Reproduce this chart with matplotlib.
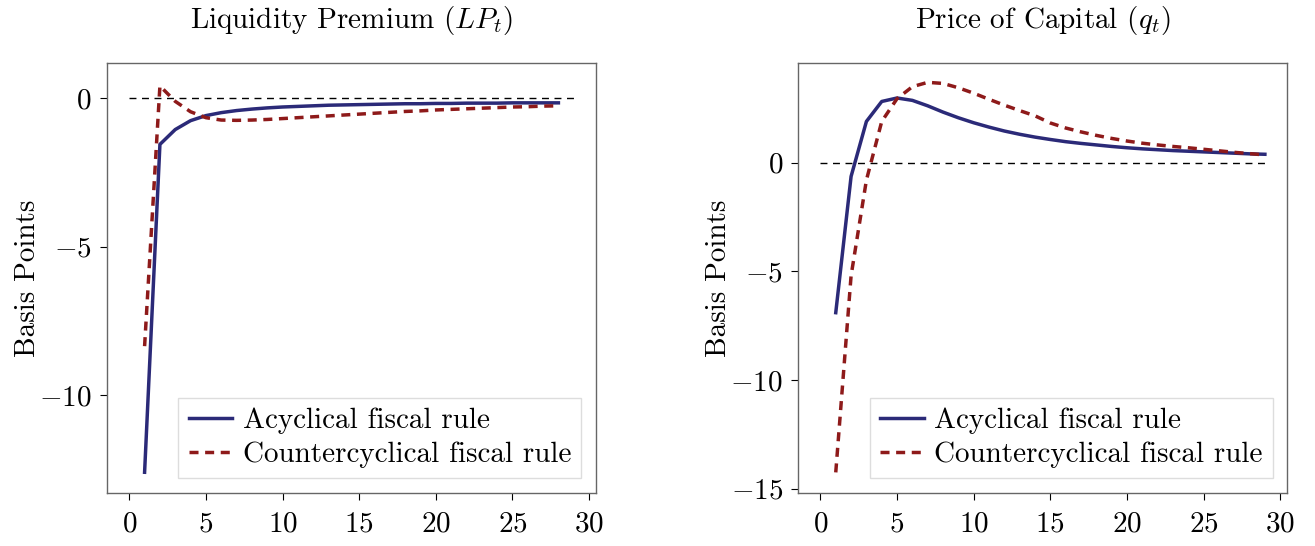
import numpy as np
import matplotlib
matplotlib.use("Agg")
from matplotlib import pyplot as plt

plt.rcParams['font.family'] = 'serif'
plt.rcParams['font.serif'] = ['cmr10', 'DejaVu Serif']
plt.rcParams['mathtext.fontset'] = 'cm'
plt.rcParams['axes.formatter.use_mathtext'] = True
plt.rcParams['axes.unicode_minus'] = True

# impulse responses, quarters 1..T
t_lp = np.arange(1, 29)
lp_acyc = [-12.6, -1.55, -1.05, -0.75, -0.58, -0.48, -0.41, -0.36, -0.32, -0.29,
           -0.27, -0.25, -0.23, -0.22, -0.21, -0.20, -0.19, -0.18, -0.18, -0.17,
           -0.17, -0.16, -0.16, -0.16, -0.15, -0.15, -0.15, -0.15]
lp_counter = [-8.35, 0.42, -0.10, -0.45, -0.65, -0.73, -0.74, -0.73, -0.71, -0.68,
              -0.65, -0.62, -0.59, -0.56, -0.53, -0.50, -0.47, -0.44, -0.42, -0.39,
              -0.37, -0.35, -0.33, -0.31, -0.29, -0.28, -0.26, -0.25]

t_q = np.arange(1, 30)
q_acyc = [-6.9, -0.63, 1.9, 2.82, 2.98, 2.87, 2.62, 2.33, 2.07, 1.84,
          1.64, 1.46, 1.31, 1.18, 1.07, 0.97, 0.89, 0.82, 0.75, 0.69,
          0.64, 0.60, 0.56, 0.53, 0.50, 0.47, 0.44, 0.41, 0.39]
q_counter = [-14.25, -5.2, -0.8, 1.9, 2.95, 3.5, 3.7, 3.65, 3.45, 3.2,
             2.92, 2.65, 2.4, 2.16, 1.83, 1.6, 1.42, 1.26, 1.12, 1.0,
             0.9, 0.82, 0.75, 0.69, 0.62, 0.55, 0.48, 0.42, 0.36]

titles = [r'Liquidity Premium ($LP_t$)', r'Price of Capital ($q_t$)']
labels = ['Acyclical fiscal rule', 'Countercyclical fiscal rule']
navy = '#2b2a78'
red = '#8e1a1a'
fs = 21

fig = plt.figure(figsize=(13.15, 5.46), dpi=100)
ax1 = fig.add_axes([0.0814, 0.097, 0.3718, 0.788])
ax2 = fig.add_axes([0.607, 0.097, 0.3718, 0.788])

panels = [(ax1, t_lp, lp_acyc, lp_counter, (-13.3, 1.2), [-10, -5, 0]),
          (ax2, t_q, q_acyc, q_counter, (-15.2, 4.6), [-15, -10, -5, 0])]

for i, (ax, t, a, c, ylim, yt) in enumerate(panels):
    ax.plot([0, 29], [0, 0], color='black', lw=1.0, dashes=(5, 4))
    ax.plot(t, a, color=navy, lw=2.5, label=labels[0])
    ax.plot(t, c, color=red, lw=2.5, dashes=(2.6, 1.9), label=labels[1])
    ax.set_xlim(-1.45, 30.45)
    ax.set_ylim(*ylim)
    ax.set_xticks([0, 5, 10, 15, 20, 25, 30])
    ax.set_yticks(yt)
    ax.tick_params(direction='out', length=5, width=0.8, labelsize=fs)
    ax.tick_params(axis='x', pad=8)
    ax.tick_params(axis='y', pad=6)
    for s in ax.spines.values():
        s.set_color('#666666')
        s.set_linewidth(1.0)
    ax.set_title(titles[i], fontsize=fs, pad=25)
    ax.set_ylabel('Basis Points', fontsize=fs)
    ax.yaxis.set_label_coords(-0.135, 0.5)
    leg = ax.legend(loc='lower right', fontsize=fs, handlelength=1.5,
                    handletextpad=0.35, labelspacing=0.25, borderpad=0.35,
                    fancybox=False, framealpha=1)
    leg.get_frame().set_edgecolor('#dddddd')
    leg.get_frame().set_linewidth(1.0)

fig.savefig('out.png', dpi=100)
